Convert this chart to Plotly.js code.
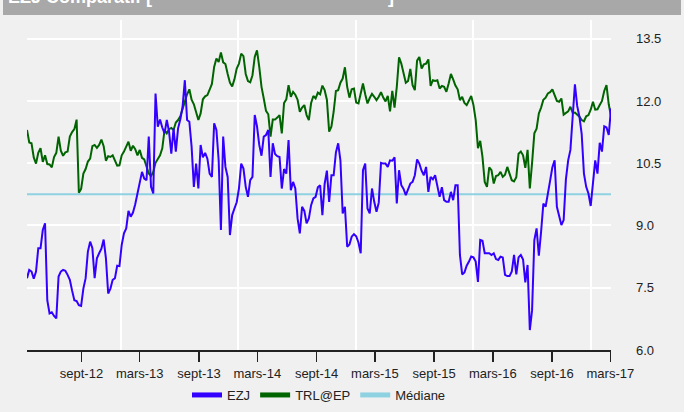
<!DOCTYPE html>
<html>
<head>
<meta charset="utf-8">
<script src="https://cdn.plot.ly/plotly-3.0.1.min.js"></script>
<style>
html,body{margin:0;padding:0;background:#f0f0f0;}
#chart{width:684px;height:412px;}
</style>
</head>
<body>
<div id="chart"></div>
<script>
// ---- data (weekly closes) ----
const startDate = '2012-03-16';
const stepDays = 7;

const ezj = [
7.73, 7.93, 7.89, 7.72, 7.89, 8.45, 8.45, 8.89, 9.05, 7.20,
6.88, 6.91, 6.82, 6.76, 7.77, 7.89, 7.93, 7.91, 7.81, 7.69,
7.43, 7.20, 7.18, 7.08, 7.06, 7.48, 7.73, 8.37, 8.61, 8.45,
7.73, 8.21, 8.33, 8.44, 8.66, 8.21, 7.36, 7.48, 7.69, 7.73,
8.03, 8.02, 8.53, 8.81, 8.93, 9.35, 9.21, 9.31, 9.51, 9.77,
9.97, 10.29, 10.13,
10.09, 11.14, 9.93, 9.77, 12.18, 11.38, 11.55, 11.36, 11.22, 11.54,
11.26, 10.73, 11.34, 10.78, 11.34, 11.56, 11.86, 12.50, 11.54, 11.50,
10.90, 9.93, 10.49, 9.89, 10.94, 10.64, 10.75, 10.61, 10.25, 10.17,
11.46, 11.30, 10.57, 8.89, 11.14, 10.41, 10.17, 8.77, 9.25, 9.41,
9.56, 9.89, 10.49, 10.37, 9.93, 9.69, 10.09, 10.17, 11.66, 11.39,
10.94, 10.68, 11.14, 11.18, 11.30, 10.17, 10.98, 10.72, 10.67, 10.65,
9.89, 10.36, 10.25, 11.06, 9.85, 10.05, 9.89, 9.17, 8.81, 9.45,
9.35, 9.05, 9.17, 9.49, 9.65, 9.69, 9.92, 9.97, 9.25, 10.00,
10.32, 9.57, 10.21, 10.21, 10.76, 10.98, 10.57, 9.29, 9.45, 8.49,
8.54, 8.73, 8.79, 8.74, 8.59, 8.33, 10.33, 10.49, 9.41, 9.29,
9.89,
9.57, 9.33, 9.55, 10.51, 10.49, 10.49, 10.41, 10.57, 10.56, 10.64,
9.53, 10.33, 9.97, 9.88, 9.73, 9.89, 10.01, 10.05, 10.21, 10.59,
10.49, 10.32, 10.21, 10.41, 9.81, 10.17, 10.11, 10.21, 9.93, 9.69,
9.92, 9.61, 9.57, 9.57, 9.81, 9.61, 9.97, 9.97, 8.29, 7.82,
7.87, 8.03, 8.13, 8.25, 8.23, 8.13, 7.64, 8.65, 8.63, 8.33,
8.33,
8.33, 8.29, 8.33, 8.19, 8.17, 8.25, 8.23, 7.81, 7.78, 7.78,
7.89, 8.29, 7.82, 8.23, 8.29, 8.18, 7.63, 8.05, 6.48, 6.96,
8.65, 8.93, 8.27, 8.85, 9.53, 9.45, 9.81, 10.08, 10.40, 10.57,
9.45, 9.23, 9.01, 9.13, 10.11, 10.57, 10.82, 11.62, 12.40, 11.88,
11.62, 11.20, 10.25, 9.93, 9.77, 9.47, 10.01, 10.57, 10.25, 10.99,
10.78, 11.39, 11.36, 11.18, 11.82
];

const trl = [
11.30, 11.00, 10.98, 10.64, 10.49, 10.75, 10.86, 10.53, 10.69, 10.48,
10.47, 10.40, 10.65, 10.75, 11.14, 10.80, 10.68, 10.76, 10.78, 11.14,
11.25, 11.32, 11.55, 9.79, 9.88, 10.25, 10.36, 10.54, 10.61, 10.91,
10.94, 10.87, 10.94, 11.07, 10.91, 10.56, 10.67, 10.65, 10.69, 10.56,
10.44, 10.45, 10.69, 10.78, 10.92, 11.02, 10.80, 10.92, 10.84, 10.69,
10.82, 10.63, 10.59,
10.41, 10.25, 10.19, 10.29, 10.51, 10.59, 10.69, 10.86, 11.30, 11.22,
11.32, 11.35, 11.30, 11.48, 11.54, 11.63, 11.82, 12.03, 12.16, 12.28,
12.03, 11.92, 11.72, 11.54, 11.70, 12.04, 12.11, 12.14, 12.27, 12.41,
12.82, 13.02, 12.94, 13.17, 12.93, 12.89, 12.65, 12.44, 12.35, 12.52,
12.78, 12.90, 13.14, 13.08, 12.65, 12.48, 12.45, 12.62, 13.06, 13.22,
12.82, 12.34, 12.06, 11.76, 11.68, 11.14, 11.55, 11.55, 11.60, 11.66,
11.22, 11.95, 12.04, 12.38, 12.10, 12.22, 12.15, 12.03, 11.74, 11.84,
11.90, 11.66, 11.54, 11.95, 12.12, 12.06, 12.20, 12.16, 12.37, 12.26,
12.03, 11.26, 11.38, 11.74, 12.24, 12.26, 12.44, 12.54, 12.81, 12.34,
12.08, 12.28, 12.30, 11.96, 11.94, 12.21, 12.42, 12.16, 11.94, 12.07,
12.17,
12.10, 12.02, 12.10, 12.21, 12.08, 11.99, 12.12, 11.75, 12.24, 11.84,
12.34, 13.05, 12.90, 12.66, 12.44, 12.48, 12.77, 12.38, 12.26, 12.97,
13.06, 12.78, 12.88, 12.90, 13.00, 12.36, 12.50, 12.48, 12.50, 12.30,
12.36, 12.34, 12.22, 12.42, 12.65, 12.52, 12.37, 12.28, 12.02, 12.10,
11.95, 11.90, 12.00, 12.12, 11.90, 11.54, 10.86, 11.04, 10.65, 10.05,
9.93,
10.40, 10.33, 10.01, 10.19, 10.21, 10.29, 10.17, 10.22, 10.41, 10.25,
10.09, 10.06, 10.16, 10.73, 10.78, 10.69, 10.39, 10.82, 9.89, 10.51,
11.22, 11.33, 11.70, 11.84, 12.03, 12.08, 12.18, 12.21, 12.28, 12.14,
12.00, 11.98, 12.06, 11.67, 11.70, 11.75, 11.86, 11.71, 11.72, 11.68,
11.62, 11.54, 11.51, 11.63, 11.66, 11.79, 11.98, 11.79, 11.80, 11.90,
12.00, 12.24, 12.38, 11.92, 11.63
];

const medianValue = 9.75;

const seriesNames = ['EZJ', 'TRL@EP', 'Médiane'];
const seriesColors = ['#3300ff', '#006400', '#8ed2e2'];

const xTickVals = ['2012-09-01','2013-03-01','2013-09-01','2014-03-01','2014-09-01',
                   '2015-03-01','2015-09-01','2016-03-01','2016-09-01','2017-03-01'];
const xTickText = ['sept-12','mars-13','sept-13','mars-14','sept-14',
                   'mars-15','sept-15','mars-16','sept-16','mars-17'];
const yearStarts = ['2013-01-01','2014-01-01','2015-01-01','2016-01-01','2017-01-01'];

const yTickVals = [6.0, 7.5, 9.0, 10.5, 12.0, 13.5];
const yTickText = ['6.0', '7.5', '9.0', '10.5', '12.0', '13.5'];

const titleLeft = 'EZJ Comparatif [';
const titleRight = ']';

// ---- dates ----
function weeklyDates(start, n, step) {
  const out = [];
  const d0 = new Date(start + 'T00:00:00Z');
  for (let i = 0; i < n; i++) {
    const d = new Date(d0.getTime() + i * step * 86400000);
    out.push(d.toISOString().slice(0, 10));
  }
  return out;
}
const dates = weeklyDates(startDate, ezj.length, stepDays);
const firstDate = dates[0], lastDate = dates[dates.length - 1];

const FONT = 'Arial, "Liberation Sans", sans-serif';
const W = 684, H = 412, ML = 27, MR = 73, MT = 20, MB = 62;
const PW = W - ML - MR, PH = H - MT - MB;
const px2x = p => (p - ML) / PW;
const py2y = p => (H - MB - p) / PH;

const traces = [
  {x: [firstDate, lastDate], y: [medianValue, medianValue], mode: 'lines',
   line: {color: seriesColors[2], width: 2}, showlegend: false, hoverinfo: 'skip'},
  {x: dates, y: trl, mode: 'lines', line: {color: seriesColors[1], width: 2},
   showlegend: false},
  {x: dates, y: ezj, mode: 'lines', line: {color: seriesColors[0], width: 2},
   showlegend: false},
];
// legend entries
seriesNames.forEach((n, k) => {
  traces.push({x: [null], y: [null], mode: 'lines', name: n,
               line: {color: seriesColors[k], width: 5}, showlegend: true});
});

const layout = {
  width: W, height: H,
  margin: {l: ML, r: MR, t: MT, b: MB, pad: 0, autoexpand: false},
  paper_bgcolor: '#f0f0f0', plot_bgcolor: '#f0f0f0',
  font: {family: FONT, size: 13, color: '#222'},
  showlegend: true,
  legend: {orientation: 'h', x: 0.5, xanchor: 'center', y: py2y(395), yanchor: 'middle',
           font: {family: FONT, size: 13, color: '#222'}, bgcolor: 'rgba(0,0,0,0)',
           itemwidth: 30, tracegroupgap: 0},
  xaxis: {
    type: 'date', range: [firstDate, lastDate],
    tickmode: 'array', tickvals: xTickVals, ticktext: xTickText,
    ticks: 'outside', ticklen: 10, tickwidth: 1.5, tickcolor: '#222',
    showgrid: false, zeroline: false,
    showline: true, linecolor: '#222', linewidth: 2,
    tickfont: {family: FONT, size: 13, color: '#222'},
    minor: {tickmode: 'array', tickvals: yearStarts, showgrid: true, gridcolor: '#ffffff', gridwidth: 2, ticks: ''},
    automargin: false, fixedrange: true
  },
  yaxis: {
    range: [6, 13.95], side: 'right',
    tickmode: 'array', tickvals: yTickVals, ticktext: yTickText,
    ticks: '', ticklabelstandoff: 24,
    showgrid: true, gridcolor: '#ffffff', gridwidth: 2,
    zeroline: false, showline: false,
    tickfont: {family: FONT, size: 13, color: '#222'},
    automargin: false, fixedrange: true
  },
  shapes: [
    {type: 'rect', xref: 'paper', yref: 'paper', layer: 'above',
     x0: px2x(3), x1: px2x(681), y0: py2y(15), y1: py2y(-5),
     fillcolor: '#a8a8a8', line: {width: 0}}
  ],
  annotations: [
    {xref: 'paper', yref: 'paper', x: px2x(6), y: py2y(-3), xanchor: 'left', yanchor: 'middle',
     text: '<b>' + titleLeft + '</b>', showarrow: false,
     font: {family: FONT, size: 18, color: '#ffffff'}},
    {xref: 'paper', yref: 'paper', x: px2x(386), y: py2y(-3), xanchor: 'left', yanchor: 'middle',
     text: '<b>' + titleRight + '</b>', showarrow: false,
     font: {family: FONT, size: 18, color: '#ffffff'}}
  ]
};

Plotly.newPlot('chart', traces, layout, {staticPlot: true, displayModeBar: false});
</script>
</body>
</html>
